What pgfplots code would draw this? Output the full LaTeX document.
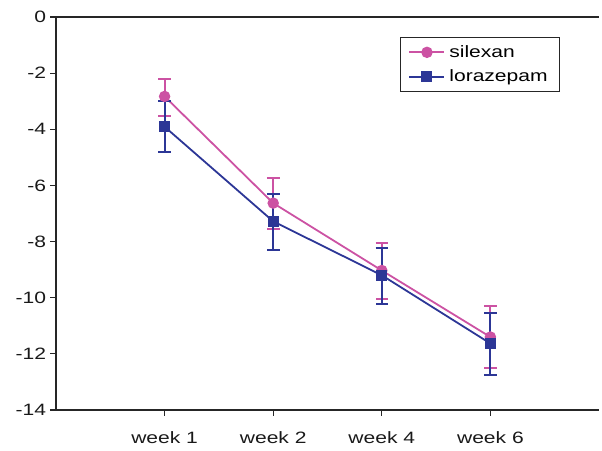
\documentclass[border=0pt]{standalone}
\usepackage{pgfplots}
\pgfplotsset{compat=1.18}
\usepackage{fontspec}
\setmainfont{Liberation Sans}[FakeStretch=1.28]
\definecolor{sil}{RGB}{204,82,163}
\definecolor{lor}{RGB}{44,54,150}
\begin{document}
\begin{tikzpicture}
\begin{axis}[
  name=ax,
  scale only axis,
  width=543bp, height=393bp,
  xmin=0, xmax=5, ymin=-14, ymax=0,
  axis x line=box, axis y line*=left,
  xtick pos=bottom, ytick pos=left,
  axis line style={line width=1.2pt, color=black!85},
  xtick={1,2,3,4}, xticklabels={week 1,week 2,week 4,week 6},
  ytick={0,-2,...,-14},
  tick align=outside,
  major tick length=5.5bp,
  every tick/.style={line width=1.2pt, color=black!85},
  tick label style={font=\fontsize{16.5}{19}\selectfont, color=black!90},
  /pgf/number format/assume math mode=true,
  yticklabel style={xshift=-1bp},
  xticklabel style={yshift=-13bp},
  every error bar/.append style={line width=2pt},
  legend style={at={(0.6335,0.949)}, anchor=north west, draw=black!85, line width=1.2pt,
    font=\fontsize{16.5}{19}\selectfont, inner xsep=8bp, inner ysep=6bp,
    row sep=7bp,
    nodes={inner xsep=4bp}},
  legend cell align=left,
  legend image code/.code={
    \draw[mark repeat=2, mark phase=2, #1] plot coordinates {(0bp,0bp) (17.5bp,0bp) (35bp,0bp)};
  },
]
\addplot[color=sil, line width=1.8pt, mark=*, mark size=4.8bp,
  error bars/.cd, y dir=both, y explicit,
  error bar style={line width=2pt}, error mark options={rotate=90, mark size=6.3bp, line width=2pt}]
  table[x=x, y=y, y error plus=ep, y error minus=em] {
x y ep em
1 -2.83 0.62 0.71
2 -6.63 0.90 0.92
3 -9.03 0.98 1.03
4 -11.40 1.11 1.12
};
\addlegendentry{silexan}
\addplot[color=lor, line width=1.8pt, mark=square*, mark size=4.6bp,
  error bars/.cd, y dir=both, y explicit,
  error bar style={line width=2pt}, error mark options={rotate=90, mark size=6.3bp, line width=2pt}]
  table[x=x, y=y, y error plus=ep, y error minus=em] {
x y ep em
1 -3.91 0.90 0.89
2 -7.28 0.98 1.01
3 -9.20 0.98 1.03
4 -11.63 1.09 1.13
};
\addlegendentry{lorazepam}
\end{axis}
\path (ax.south west) ++(-56bp,-41bp) coordinate (p1);
\path (ax.north east) ++(3bp,17bp) coordinate (p2);
\pgfresetboundingbox
\path (p1) rectangle (p2);
\end{tikzpicture}
\end{document}
